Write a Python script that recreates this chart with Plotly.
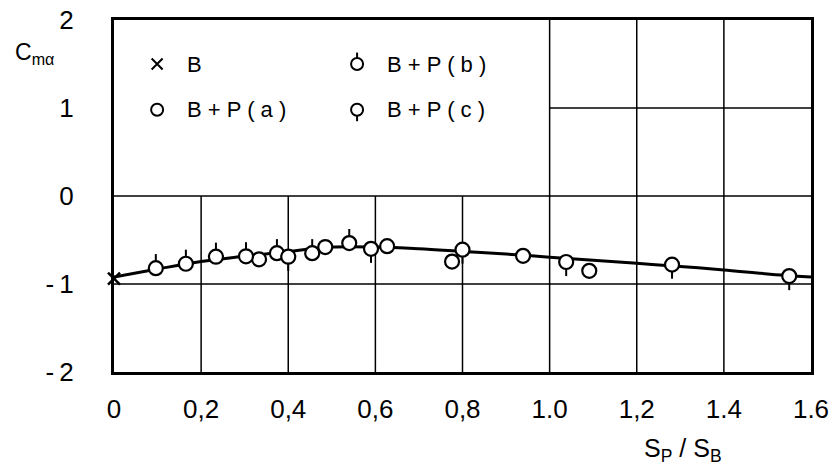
import plotly.graph_objects as go

# ---- axes / ticks ----
x_ticks = [0, 0.2, 0.4, 0.6, 0.8, 1.0, 1.2, 1.4, 1.6]
x_ticklabels = ["0", "0,2", "0,4", "0,6", "0,8", "1.0", "1,2", "1.4", "1.6"]
y_ticks = [-2, -1, 0, 1, 2]
y_ticklabels = ["-\u20092", "-\u20091", "0", "1", "2"]

# ---- data ----
b_x = [0.0]
b_y = [-0.94]
pa_x = [0.333, 0.485, 0.627, 0.776, 0.939, 1.091]
pa_y = [-0.72, -0.58, -0.57, -0.745, -0.68, -0.85]
pb_x = [0.096, 0.165, 0.234, 0.303, 0.374, 0.455, 0.54]
pb_y = [-0.82, -0.77, -0.69, -0.685, -0.65, -0.65, -0.535]
pc_x = [0.40, 0.59, 0.80, 1.038, 1.281, 1.55]
pc_y = [-0.69, -0.60, -0.61, -0.75, -0.78, -0.91]
fit_x = [0, 0.1, 0.2, 0.3, 0.4, 0.5, 0.6, 0.7, 0.8, 0.9, 1.0, 1.1, 1.2, 1.3, 1.4, 1.5, 1.6]
fit_y = [-0.92, -0.83, -0.745, -0.685, -0.63, -0.58, -0.58, -0.60, -0.63, -0.66,
         -0.695, -0.73, -0.765, -0.80, -0.84, -0.885, -0.92]

legend_labels = ["B", "B+P(a)", "B+P(b)", "B+P(c)"]

# ---- grid segments (partial grid, blank legend box) ----
h_grid = [(0, 0.0, 1.6), (-1, 0.0, 1.6), (1, 1.0, 1.6)]        # (y, x0, x1)
v_grid = [(0.2, -2, 0), (0.4, -2, 0), (0.6, -2, 0), (0.8, -2, 0),
          (1.0, -2, 2), (1.2, -2, 2), (1.4, -2, 2)]             # (x, y0, y1)

FONT = "Liberation Sans, Arial, sans-serif"
TICK = 0.16
MS = 14

fig = go.Figure()

shapes = []
for y, x0, x1 in h_grid:
    shapes.append(dict(type="line", xref="x", yref="y", x0=x0, x1=x1, y0=y, y1=y,
                       line=dict(color="black", width=1.5), layer="below"))
for x, y0, y1 in v_grid:
    shapes.append(dict(type="line", xref="x", yref="y", x0=x, x1=x, y0=y0, y1=y1,
                       line=dict(color="black", width=1.5), layer="below"))

fig.add_trace(go.Scatter(x=fit_x, y=fit_y, mode="lines", line=dict(color="black", width=3, shape="spline"),
                         showlegend=False, hoverinfo="skip"))

circ = dict(symbol="circle", size=MS, color="white", line=dict(color="black", width=2.2))

fig.add_trace(go.Scatter(x=b_x, y=b_y, mode="markers", cliponaxis=False,
                         marker=dict(symbol="x-thin", size=12, line=dict(color="black", width=2.5)),
                         name=legend_labels[0], showlegend=False))
fig.add_trace(go.Scatter(x=pa_x, y=pa_y, mode="markers", marker=circ, name=legend_labels[1], showlegend=False))
fig.add_trace(go.Scatter(x=pb_x, y=pb_y, mode="markers", marker=circ, name=legend_labels[2], showlegend=False,
                         error_y=dict(type="data", symmetric=False, array=[TICK] * len(pb_x),
                                      arrayminus=[0] * len(pb_x), width=0, thickness=2, color="black")))
fig.add_trace(go.Scatter(x=pc_x, y=pc_y, mode="markers", marker=circ, name=legend_labels[3], showlegend=False,
                         error_y=dict(type="data", symmetric=False, array=[0] * len(pc_x),
                                      arrayminus=[TICK] * len(pc_x), width=0, thickness=2, color="black")))

# ---- manual legend (2 columns) ----
leg_col_x = [0.099, 0.558]
leg_row_y = [1.5, 0.98]
leg_text_dx = 0.064
annotations = []
for i, lab in enumerate(legend_labels):
    col, row = i // 2, i % 2
    lx, ly = leg_col_x[col], leg_row_y[row]
    err = None
    if i == 0:
        m = dict(symbol="x-thin", size=11, line=dict(color="black", width=2))
    else:
        m = dict(symbol="circle", size=12, color="white", line=dict(color="black", width=2))
        if i == 2:
            err = dict(type="data", symmetric=False, array=[0.13], arrayminus=[0], width=0, thickness=2, color="black")
        elif i == 3:
            err = dict(type="data", symmetric=False, array=[0], arrayminus=[0.13], width=0, thickness=2, color="black")
    fig.add_trace(go.Scatter(x=[lx], y=[ly], mode="markers", marker=m, error_y=err,
                             showlegend=False, hoverinfo="skip"))
    annotations.append(dict(x=lx + leg_text_dx, y=ly, xref="x", yref="y", xanchor="left", yanchor="middle",
                            text=" ".join(list(lab)), showarrow=False,
                            font=dict(family=FONT, size=22, color="black")))

annotations.append(dict(x=-0.145, y=0.905, xref="paper", yref="paper", xanchor="left", yanchor="middle",
                        text="C<sub>m\u03b1</sub>", showarrow=False,
                        font=dict(family=FONT, size=23, color="black")))
annotations.append(dict(x=0.757, y=-0.222, xref="paper", yref="paper", xanchor="left", yanchor="middle",
                        text="S<sub>P</sub> / S<sub>B</sub>", showarrow=False,
                        font=dict(family=FONT, size=25, color="black")))

fig.update_layout(
    width=829, height=468,
    margin=dict(l=114, r=18, t=20, b=96, autoexpand=False),
    paper_bgcolor="white", plot_bgcolor="white",
    shapes=shapes, annotations=annotations,
    showlegend=False,
    xaxis=dict(range=[0, 1.6], tickvals=x_ticks, ticktext=x_ticklabels, showgrid=False, zeroline=False,
               showline=True, mirror=True, linecolor="black", linewidth=3, ticks="",
               ticklabeloverflow="allow", automargin=False,
               ticklabelstandoff=12, tickfont=dict(family=FONT, size=26, color="black")),
    yaxis=dict(range=[-2, 2], tickvals=y_ticks, ticktext=y_ticklabels, showgrid=False, zeroline=False,
               showline=True, mirror=True, linecolor="black", linewidth=3, ticks="",
               ticklabeloverflow="allow", automargin=False,
               ticklabelstandoff=32, tickfont=dict(family=FONT, size=26, color="black")),
)

fig.write_html("out.html")
